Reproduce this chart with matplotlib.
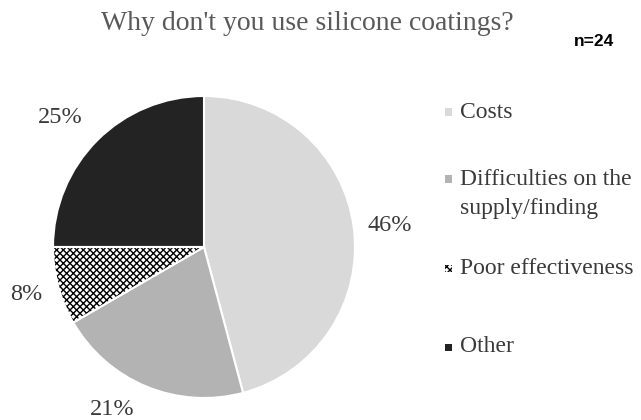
import numpy as np
import matplotlib
matplotlib.use('Agg')
import matplotlib.pyplot as plt
from matplotlib.patches import Rectangle, Wedge

categories = ['Costs', 'Difficulties on the\nsupply/finding', 'Poor effectiveness', 'Other']
counts = [11, 5, 2, 6]
pct_labels = ['46%', '21%', '8%', '25%']
colors = ['#d9d9d9', '#b3b3b3', 'white', '#232323']
hatches = [None, None, 'xxxxx', None]

plt.rcParams['hatch.linewidth'] = 1.0
text_color = '#3a3a3a'

fig = plt.figure(figsize=(6.41, 4.2), dpi=100)

# pie axes: centre at (204, 247) px, radius ~151 px
ax = fig.add_axes([53 / 641, (420 - 247 - 151) / 420, 302 / 641, 302 / 420])
wedges, texts = ax.pie(counts, labels=pct_labels, colors=colors, startangle=90,
                       counterclock=False, labeldistance=1.24,
                       wedgeprops=dict(edgecolor='white', linewidth=1.5),
                       textprops=dict(family='Liberation Serif', fontsize=17.5, color=text_color))
for w, h in zip(wedges, hatches):
    if h:
        # hatch takes the edge colour, so redraw the white outline on top
        w.set_hatch(h)
        w.set_edgecolor('black')
        w.set_linewidth(0)
        ax.add_patch(Wedge(w.center, w.r, w.theta1, w.theta2, fill=False,
                           edgecolor='white', linewidth=1.5))

# percentage labels sit centred around the wedge middles
label_dist = [1.24, 1.24, 1.22, 1.28]
label_shift = [-1, -7, 0, 3]
for w, t, d, s in zip(wedges, texts, label_dist, label_shift):
    ang = np.deg2rad((w.theta1 + w.theta2) / 2 + s)
    t.set_position((d * np.cos(ang), d * np.sin(ang)))
    t.set_ha('center')
    t.set_va('center')
ax.set_xlim(-1.0, 1.0)
ax.set_ylim(-1.0, 1.0)

fig.text(0.48, 0.945, "Why don't you use silicone coatings?", ha='center', va='center',
         family='Liberation Serif', fontsize=20, color='#595959')
fig.text(594 / 641, 1 - 42 / 420, 'n=24', ha='center', va='center', family='Liberation Sans',
         fontsize=12.5, fontweight='bold', color='black')

# legend entries
legend_y = [112, 194, 268, 347]
line_h = 30
for cat, col, h, y in zip(categories, colors, hatches, legend_y):
    nlines = cat.count('\n') + 1
    my = y - (nlines - 1) * line_h / 2
    sq = Rectangle((445 / 641, 1 - (my + 3.5) / 420), 7 / 641, 7 / 420,
                   transform=fig.transFigure, facecolor=col,
                   edgecolor='black' if h else 'none', linewidth=0, hatch=h)
    fig.add_artist(sq)
    fig.text(460 / 641, 1 - y / 420, cat, ha='left', va='center', family='Liberation Serif',
             fontsize=17, color=text_color, linespacing=1.45)

fig.savefig('out.png', dpi=100)
